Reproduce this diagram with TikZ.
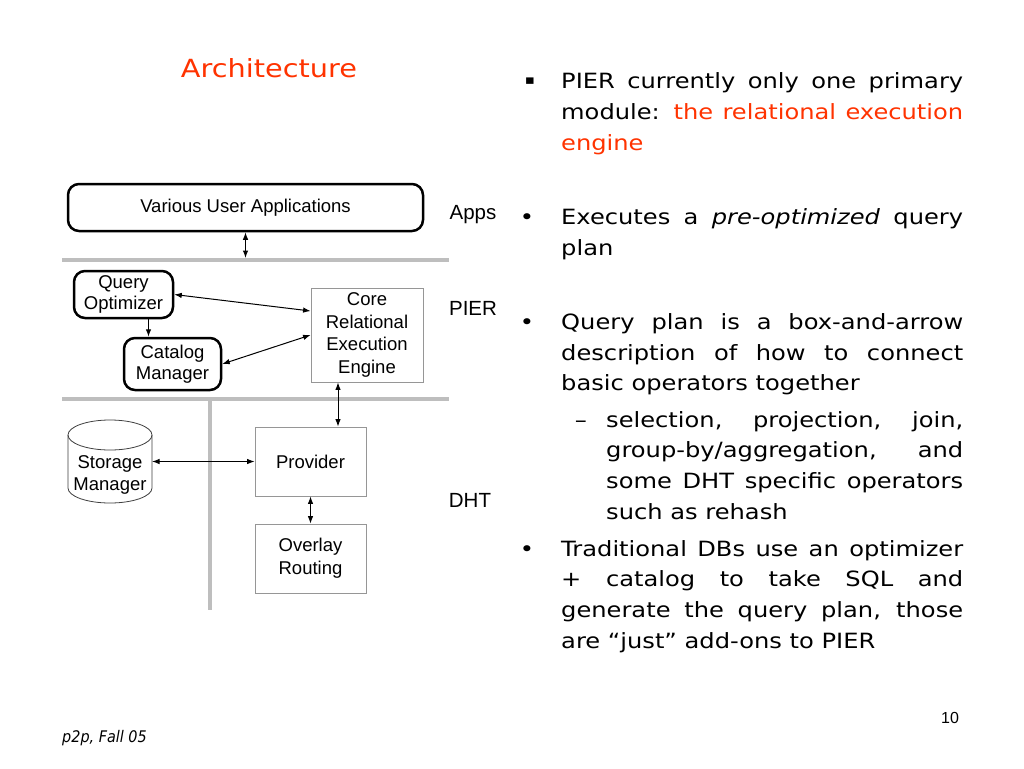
\documentclass[tikz,border=0pt]{standalone}
\usepackage{fontspec}
\setmainfont{DejaVu Sans}[FakeStretch=1.15]
\newfontfamily\diafont{Liberation Sans}
\newfontfamily\footfont{DejaVu Sans}[FakeStretch=0.9]
\usetikzlibrary{positioning,arrows.meta}
\definecolor{slidered}{RGB}{255,51,0}
\definecolor{sepgray}{RGB}{190,190,190}
\definecolor{boxgray}{RGB}{150,150,150}
\newcommand{\spreadline}[2]{\makebox[#1][s]{#2}}
\tikzset{
    auto,
    rblock/.style = {
        draw,
        shape=rectangle,
        rounded corners=11pt,
        line width=2.5pt,
        inner sep=0pt,
        align=center,
        font=\diafont\fontsize{18.5}{20.5}\selectfont
    },
    pblock/.style = {
        draw=boxgray,
        shape=rectangle,
        line width=0.8pt,
        inner sep=0pt,
        align=center,
        font=\diafont\fontsize{18.5}{22.7}\selectfont
    },
    drum/.style = {
        draw=black!75,
        line width=0.8pt
    },
    drumtext/.style = {
        inner sep=0pt,
        align=center,
        font=\diafont\fontsize{18.5}{22}\selectfont
    },
    layer/.style = {
        inner sep=0pt,
        font=\diafont\fontsize{20.5}{23}\selectfont
    },
    sep/.style = {
        draw=sepgray,
        line width=4pt
    },
    link/.style = {
        draw,
        line width=1pt
    },
    bodyline/.style = {
        anchor=base west,
        inner sep=0pt,
        font=\fontsize{21}{31}\selectfont
    },
    bulletmark/.style = {
        anchor=base,
        inner sep=0pt,
        font=\fontsize{21}{31}\selectfont
    },
    >={Latex[length=7.5pt,width=5.5pt]},
}

\begin{document}
\begin{tikzpicture}[x=1pt,y=-1pt]
        \useasboundingbox (0,0) rectangle (1024,768);
        \fill[white] (0,0) rectangle (1024,768);

        % title and footer
        \node[text=slidered, font=\fontsize{25}{30}\selectfont] (title) at (269,68) {Architecture};
        \node[anchor=base west, inner sep=0pt, font=\footfont\itshape\fontsize{16}{18}\selectfont] (foot) at (62,742) {p2p, Fall 05};
        \node[font=\diafont\fontsize{16}{18}\selectfont] (pnum) at (950,718) {10};

        % layer separators
        \draw[sep] (62,260) -- (449,260);
        \draw[sep] (62,399) -- (449,399);
        \draw[sep] (210,399) -- (210,610);
        \coordinate (appsgap) at (245.5,258);

        % storage drum
        \draw[drum] (68,435) -- (68,488) arc[start angle=180, end angle=0, x radius=42, y radius=15] -- (152,435);
        \draw[drum] (110,435) ellipse [x radius=42, y radius=15];
        \coordinate (drumside) at (152,461.5);

        % boxes
        \node[rblock, minimum width=355pt, minimum height=47pt] (apps) at (245.5,207.5) {Various User Applications};
        \node[rblock, minimum width=99pt, minimum height=47pt] (qo) at (123.5,294.5) {Query\\Optimizer};
        \node[rblock, minimum width=97pt, minimum height=52pt] (cat) at (172.5,364) {Catalog\\Manager};
        \node[pblock, minimum width=112pt, minimum height=94pt] (core) at (367,335) {Core\\Relational\\Execution\\Engine};
        \node[pblock, minimum width=111pt, minimum height=69pt] (prov) at (310.5,461.5) {Provider};
        \node[pblock, minimum width=111pt, minimum height=69pt] (ovl) at (310.5,558.5) {Overlay\\Routing};
        \node[drumtext] (stor) at (110,475) {Storage\\Manager};

        \node[layer] (lapps) at (473,215) {Apps};
        \node[layer] (lpier) at (473,308) {PIER};
        \node[layer] (ldht) at (470,500) {DHT};

        % connectors
        \path[link, <->] (apps.south) -- (appsgap);
        \path[link, ->] ([xshift=25pt]qo.south) -- ([xshift=25pt]qo.south |- cat.north);
        \path[link, <->] (qo.east) -- ([yshift=24pt]core.west);
        \path[link, <->] (cat.east) -- (core.west);
        \path[link, <->] ([xshift=-29pt]core.south) -- ([xshift=-29pt]core.south |- prov.north);
        \path[link, <->] (drumside) -- (prov.west);
        \path[link, <->] (prov.south) -- (ovl.north);

        % bullet text
        \node[inner sep=0pt, font=\fontsize{13}{15}\selectfont] (m1) at (530,81) {▪};
        \node[bodyline] (b1a) at (561,88) {\spreadline{402pt}{PIER currently only one primary}};
        \node[bodyline] (b1b) at (561,119) {\spreadline{402pt}{module: {\color{slidered}the relational execution}}};
        \node[bodyline, text=slidered] (b1c) at (561,150) {engine};

        \node[bulletmark] (m2) at (527,224) {•};
        \node[bodyline] (b2a) at (561,224) {\spreadline{402pt}{Executes a \textit{pre-optimized} query}};
        \node[bodyline] (b2b) at (561,255) {plan};

        \node[bulletmark] (m3) at (527,329) {•};
        \node[bodyline] (b3a) at (561,329) {\spreadline{402pt}{Query plan is a box-and-arrow}};
        \node[bodyline] (b3b) at (561,360) {\spreadline{402pt}{description of how to connect}};
        \node[bodyline] (b3c) at (561,390) {basic operators together};

        \node[bulletmark] (m3s) at (581,427) {–};
        \node[bodyline] (s1a) at (606,427) {\spreadline{357pt}{selection, projection, join,}};
        \node[bodyline] (s1b) at (606,457) {\spreadline{357pt}{group-by/aggregation, and}};
        \node[bodyline] (s1c) at (606,488) {\spreadline{357pt}{some DHT specific operators}};
        \node[bodyline] (s1d) at (606,519) {such as rehash};

        \node[bulletmark] (m4) at (527,556) {•};
        \node[bodyline] (b4a) at (561,556) {\spreadline{402pt}{Traditional DBs use an optimizer}};
        \node[bodyline] (b4b) at (561,586) {\spreadline{402pt}{+ catalog to take SQL and}};
        \node[bodyline] (b4c) at (561,617) {\spreadline{402pt}{generate the query plan, those}};
        \node[bodyline] (b4d) at (561,648) {are “just” add-ons to PIER};
    \end{tikzpicture}
\end{document}
